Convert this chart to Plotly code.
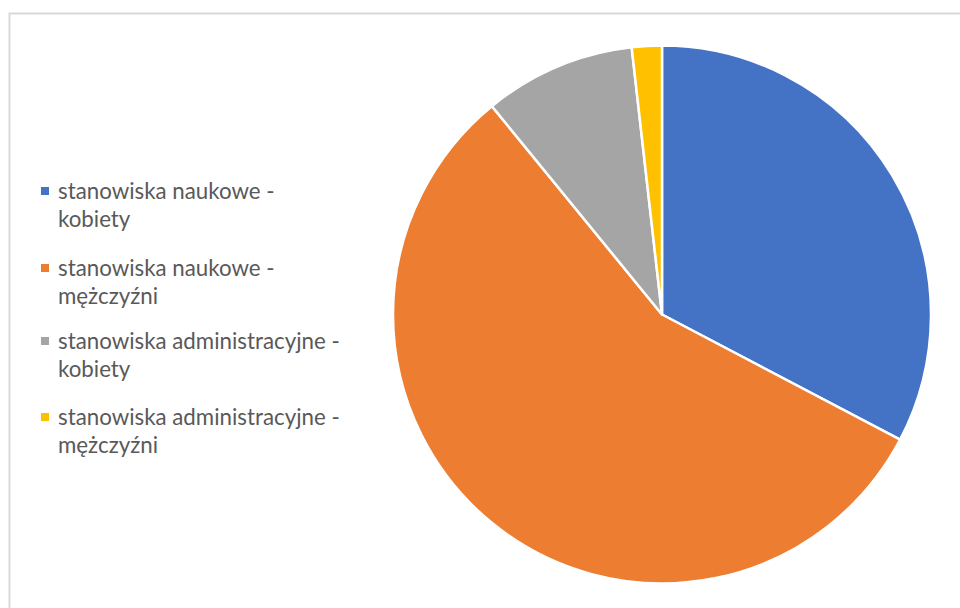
import plotly.graph_objects as go

# Employment structure by position type and gender (percent)
labels = [
    "stanowiska naukowe - kobiety",
    "stanowiska naukowe - mężczyźni",
    "stanowiska administracyjne - kobiety",
    "stanowiska administracyjne - mężczyźni",
]
values = [32.7, 56.4, 9.1, 1.8]
colors = ["#4472C4", "#ED7D31", "#A5A5A5", "#FFC000"]

W, H = 960, 608
cx, cy, r = 662, 314.5, 269

fig = go.Figure(
    go.Pie(
        labels=labels,
        values=values,
        sort=False,
        direction="clockwise",
        rotation=0,
        textinfo="none",
        hoverinfo="label+percent",
        marker=dict(colors=colors, line=dict(color="#FFFFFF", width=2.5)),
        domain=dict(
            x=[(cx - r) / W, (cx + r) / W],
            y=[(H - cy - r) / H, (H - cy + r) / H],
        ),
        showlegend=False,
    )
)

# Hand-laid legend: coloured square plus two-line label per slice
font = dict(family="Lato, 'Open Sans', sans-serif", size=22.3, color="#595959")
first_line_y = [190, 267, 340, 416]
line_gap = 28.5
annotations = []
shapes = []
for lab, col, y0 in zip(labels, colors, first_line_y):
    head, tail = lab.split(" - ")
    for k, txt in enumerate([head + " -", tail]):
        annotations.append(dict(
            x=56 / W, y=1 - (y0 + k * line_gap) / H,
            xref="paper", yref="paper", xanchor="left", yanchor="middle",
            text=txt, showarrow=False, font=font,
        ))
    s = 8
    shapes.append(dict(
        type="rect", xref="paper", yref="paper",
        x0=(45 - s / 2) / W, x1=(45 + s / 2) / W,
        y0=1 - (y0 + 1 + s / 2) / H, y1=1 - (y0 + 1 - s / 2) / H,
        fillcolor=col, line=dict(width=0),
    ))

# Chart area frame
shapes.append(dict(
    type="rect", xref="paper", yref="paper",
    x0=9.5 / W, x1=1.02, y0=-0.02, y1=1 - 13.5 / H,
    line=dict(color="#D9D9D9", width=2), fillcolor="rgba(0,0,0,0)",
    layer="below",
))

fig.update_layout(
    width=W, height=H,
    margin=dict(l=0, r=0, t=0, b=0),
    paper_bgcolor="#FFFFFF",
    plot_bgcolor="#FFFFFF",
    annotations=annotations,
    shapes=shapes,
)

fig.write_html("out.html")
